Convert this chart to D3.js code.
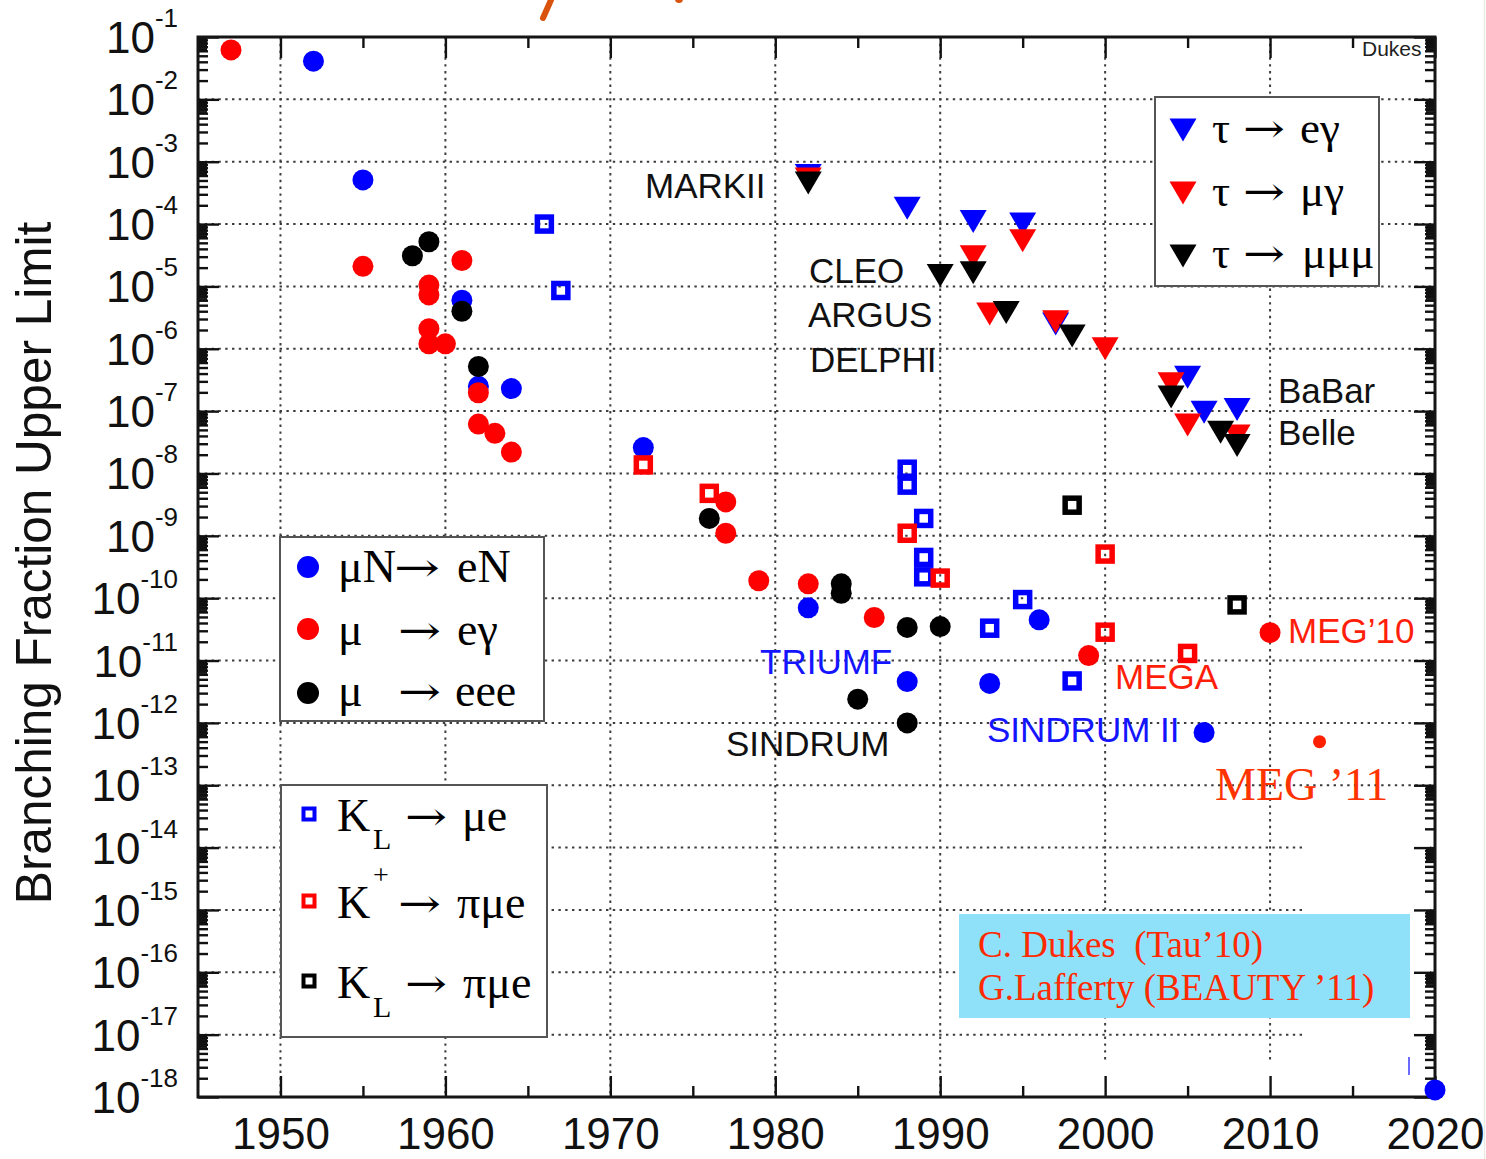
<!DOCTYPE html>
<html><head><meta charset="utf-8">
<script src="https://cdn.jsdelivr.net/npm/d3@7"></script>
<style>
html,body{margin:0;padding:0;background:#fff;}
svg{display:block;}
</style></head>
<body>
<svg id="chart" width="1486" height="1159"></svg>
<script>
// Upper limits on charged-lepton-flavour-violating branching fractions vs. year

// muon processes (filled circles)
const muToEConversion = [[1952,4.1e-2],[1955,5.1e-4],[1961,6.0e-6],[1962,2.5e-7],[1964,2.3e-7],[1972,2.6e-8],[1982,7.0e-11],[1988,4.6e-12],[1993,4.3e-12],[1996,4.5e-11],[2006,7.0e-13],[2020,1.3e-18]];
const muToEGamma = [[1947,6.2e-2],[1955,2.1e-5],[1959,1.05e-5],[1959,7.3e-6],[1959,2.1e-6],[1959,1.2e-6],[1960,1.2e-6],[1961,2.6e-5],[1962,1.97e-7],[1962,6.2e-8],[1963,4.4e-8],[1964,2.2e-8],[1977,3.5e-9],[1977,1.1e-9],[1979,1.9e-10],[1982,1.7e-10],[1986,4.9e-11],[1999,1.2e-11],[2010,2.8e-11]];
const muToEEE = [[1958,3.1e-5],[1959,5.2e-5],[1961,4.0e-6],[1962,5.2e-7],[1976,1.9e-9],[1984,1.7e-10],[1984,1.2e-10],[1985,2.4e-12],[1988,3.4e-11],[1988,1.0e-12],[1990,3.5e-11]];
const megUpdate = [[2013,5.0e-13]];

// kaon processes (open squares)
const kLToMuE = [[1966,1.0e-4],[1967,8.6e-6],[1988,1.17e-8],[1988,6.5e-9],[1989,1.9e-9],[1989,4.5e-10],[1989,2.2e-10],[1993,3.3e-11],[1995,9.5e-11],[1998,4.7e-12]];
const kPlusToPiMuE = [[1972,1.37e-8],[1976,4.8e-9],[1988,1.1e-9],[1990,2.1e-10],[2000,5.1e-10],[2000,2.85e-11],[2005,1.3e-11]];
const kLToPiMuE = [[1998,3.1e-9],[2008,7.8e-11]];

// tau processes (downward triangles)
const tauToEGamma = [[1982,6.0e-4],[1988,1.8e-4],[1992,1.1e-4],[1995,1.0e-4],[1997,2.5e-6],[2005,3.5e-7],[2006,9.6e-8],[2008,1.06e-7]];
const tauToMuGamma = [[1982,5.3e-4],[1992,3.0e-5],[1993,3.6e-6],[1995,5.4e-5],[1997,2.7e-6],[2000,1.0e-6],[2004,2.75e-7],[2005,6.0e-8],[2008,4.0e-8]];
const tauToMuMuMu = [[1982,4.55e-4],[1990,1.5e-5],[1992,1.66e-5],[1994,3.8e-6],[1998,1.6e-6],[2004,1.68e-7],[2007,4.6e-8],[2008,2.8e-8]];

// axis ticks
const xMajorYears = [1950,1960,1970,1980,1990,2000,2010,2020];
const xMinorYears = [1955,1965,1975,1985,1995,2005,2015];
const xGridYears = [1950,1960,1970,1980,1990,2000,2010];
const yExponents = d3.range(-18, 0);          // 10^-18 ... 10^-1
const yGridExponents = d3.range(-17, -1);     // 10^-17 ... 10^-2

const BLUE = "#0000ff", RED = "#ff0000", BLACK = "#000000";
const SANS = "'Liberation Sans', Arial, sans-serif";
const SERIF = "'Liberation Serif', 'Times New Roman', serif";

const frame = {left:198, right:1435, top:37, bottom:1097};
const x = d3.scaleLinear().domain([1945, 2020]).range([frame.left, frame.right]);
const y = d3.scaleLog().domain([1e-18, 1e-1]).range([frame.bottom, frame.top]);

const svg = d3.select("#chart");
svg.append("rect").attr("width",1486).attr("height",1159).attr("fill","#fff");

// slide border and a stroke of hand annotation above the frame
svg.append("line").attr("x1",1484.5).attr("x2",1484.5).attr("y1",0).attr("y2",1159)
  .attr("stroke","#ebebe6").attr("stroke-width",1.5);
svg.append("line").attr("x1",551).attr("y1",0).attr("x2",543).attr("y2",18)
  .attr("stroke","#d9530e").attr("stroke-width",6).attr("stroke-linecap","round");
svg.append("circle").attr("cx",679).attr("cy",-1).attr("r",4).attr("fill","#d9530e");

// dotted grid
const grid = svg.append("g").attr("stroke","#3c3c3c").attr("stroke-width",2)
  .attr("stroke-dasharray","2.4,4.4");
grid.append("g").selectAll("line").data(xGridYears).join("line")
  .attr("x1",d=>x(d)).attr("x2",d=>x(d)).attr("y1",frame.top).attr("y2",frame.bottom);
grid.append("g").selectAll("line").data(yGridExponents).join("line")
  .attr("x1",frame.left).attr("x2",frame.right)
  .attr("y1",d=>y(Math.pow(10,d))).attr("y2",d=>y(Math.pow(10,d)));

// blanked corner of the pasted panel
svg.append("rect").attr("x",1306).attr("y",836).attr("width",124).attr("height",258).attr("fill","#fff");
svg.append("rect").attr("x",960).attr("y",1061).attr("width",346).attr("height",33).attr("fill","#fff");
svg.append("line").attr("x1",1409).attr("x2",1409).attr("y1",1057).attr("y2",1075)
  .attr("stroke","#3a3aff").attr("stroke-width",1.5);

// axes (ticks drawn inside the frame)
function styleAxis(g){
  g.select(".domain").remove();
  g.attr("color","#111").selectAll(".tick line").attr("stroke-width",2.4);
}
const axes = svg.append("g");
const bottomMajor = axes.append("g").attr("transform",`translate(0,${frame.bottom})`)
  .call(d3.axisBottom(x).tickValues(xMajorYears).tickSize(-21).tickFormat(d3.format("d")));
styleAxis(bottomMajor);
bottomMajor.attr("font-family",SANS).attr("font-size",44);
bottomMajor.selectAll("text").attr("y",52).attr("dy",null).attr("fill","#111");
styleAxis(axes.append("g").attr("transform",`translate(0,${frame.bottom})`)
  .call(d3.axisBottom(x).tickValues(xMinorYears).tickSize(-11).tickFormat("")));
styleAxis(axes.append("g").attr("transform",`translate(0,${frame.top})`)
  .call(d3.axisTop(x).tickValues(xMajorYears).tickSize(-21).tickFormat("")));
styleAxis(axes.append("g").attr("transform",`translate(0,${frame.top})`)
  .call(d3.axisTop(x).tickValues(xMinorYears).tickSize(-11).tickFormat("")));

const decadeValues = yExponents.map(e => Math.pow(10, e));
const minorValues = [];
const fineValues = [];
yExponents.slice(0, -1).forEach(e => {
  for (let m = 2; m <= 9; m++) minorValues.push(m * Math.pow(10, e));
  for (let m = 6.2; m < 9.95; m += 0.2) if (Math.abs(m - Math.round(m)) > 0.05) fineValues.push(m * Math.pow(10, e));
});
[[d3.axisLeft, frame.left],[d3.axisRight, frame.right]].forEach(([make, px]) => {
  styleAxis(axes.append("g").attr("transform",`translate(${px},0)`)
    .call(make(y).tickValues(decadeValues).tickSize(-21).tickFormat("")));
  styleAxis(axes.append("g").attr("transform",`translate(${px},0)`)
    .call(make(y).tickValues(minorValues).tickSize(-10).tickFormat("")));
  const f = axes.append("g").attr("transform",`translate(${px},0)`)
    .call(make(y).tickValues(fineValues).tickSize(-9).tickFormat(""));
  styleAxis(f);
  f.selectAll(".tick line").attr("stroke-width",1.3);
});

// y tick labels 10^n
svg.append("g").attr("font-family",SANS).attr("fill","#111")
  .selectAll("text").data(yExponents).join("text")
  .attr("x",178).attr("y",d=>y(Math.pow(10,d))+16).attr("text-anchor","end").attr("font-size",44)
  .each(function(d){
    const t = d3.select(this);
    t.append("tspan").text("10");
    t.append("tspan").attr("font-size",26).attr("dy",-26).text(String(d));
  });

// axis title
svg.append("text").attr("transform","translate(51,563) rotate(-90)")
  .attr("text-anchor","middle").attr("font-family",SANS).attr("font-size",49.5).attr("fill","#111")
  .text("Branching Fraction Upper Limit");

// frame
svg.append("rect").attr("x",frame.left).attr("y",frame.top)
  .attr("width",frame.right-frame.left).attr("height",frame.bottom-frame.top)
  .attr("fill","none").attr("stroke","#151515").attr("stroke-width",3);

// summary box
svg.append("rect").attr("x",959).attr("y",914).attr("width",451).attr("height",104).attr("fill","#8fe1fa");
const cite = svg.append("g").attr("font-family",SERIF).attr("font-size",37).attr("fill","#ff2a00");
cite.append("text").attr("x",978).attr("y",957).text("C. Dukes\u00a0 (Tau\u201910)");
cite.append("text").attr("x",978).attr("y",1000).text("G.Lafferty (BEAUTY \u201911)");

// markers
const marks = svg.append("g");
function circles(data, color, r){
  marks.append("g").selectAll("circle").data(data).join("circle")
    .attr("cx",d=>x(d[0])).attr("cy",d=>y(d[1])).attr("r",r).attr("fill",color);
}
function squares(data, color){
  const s = 14;
  marks.append("g").selectAll("rect").data(data).join("rect")
    .attr("x",d=>x(d[0])-s/2).attr("y",d=>y(d[1])-s/2).attr("width",s).attr("height",s)
    .attr("fill","none").attr("stroke",color).attr("stroke-width",5.5);
}
function triPath(cx, cy){
  return `M${cx-13.5},${cy-11.5}L${cx+13.5},${cy-11.5}L${cx},${cy+11.5}Z`;
}
function triangles(data, color){
  marks.append("g").selectAll("path").data(data).join("path")
    .attr("d",d=>triPath(x(d[0]), y(d[1]))).attr("fill",color);
}
circles(muToEConversion, BLUE, 10.5);
circles(muToEGamma, RED, 10.5);
circles(muToEEE, BLACK, 10.5);
circles(megUpdate, "#ff2000", 6.5);
squares(kLToMuE, BLUE);
squares(kPlusToPiMuE, RED);
squares(kLToPiMuE, BLACK);
triangles(tauToEGamma, BLUE);
triangles(tauToMuGamma, RED);
triangles(tauToMuMuMu, BLACK);

// experiment labels
const LBLUE = "#1414ff", LRED = "#ff1e0a";
const experimentLabels = [
  ["MARKII",645,198,"#111"],["CLEO",809,283,"#111"],["ARGUS",808,327,"#111"],["DELPHI",810,372,"#111"],
  ["BaBar",1278,403,"#111"],["Belle",1278,445,"#111"],["TRIUMF",760,674,LBLUE],["SINDRUM",726,756,"#111"],
  ["SINDRUM II",987,742,LBLUE],["MEGA",1115,689,LRED],["MEG\u201910",1288,643,LRED]
];
svg.append("g").attr("font-family",SANS).attr("font-size",35)
  .selectAll("text").data(experimentLabels).join("text")
  .attr("x",d=>d[1]).attr("y",d=>d[2]).attr("fill",d=>d[3]).text(d=>d[0]);
svg.append("text").attr("x",1215).attr("y",800).attr("font-family",SERIF).attr("font-size",46)
  .attr("fill","#ff3300").text("MEG \u201911");
svg.append("text").attr("x",1362).attr("y",56).attr("font-family",SANS).attr("font-size",21)
  .attr("fill","#222").text("Dukes");

// legends
function legendBox(x0, y0, w, h){
  svg.append("rect").attr("x",x0).attr("y",y0).attr("width",w).attr("height",h)
    .attr("fill","#fff").attr("stroke","#555").attr("stroke-width",2);
}
// an arrow glyph stretched horizontally to the given width
function legendArrow(g, px, py, fs, len){
  const el = g.append("text").attr("x",0).attr("y",0)
    .attr("font-family","'DejaVu Serif', serif").attr("font-size",fs).text("\u2192");
  const w = el.node().getComputedTextLength() || fs * 0.84;
  el.attr("transform",`translate(${px},${py - fs*0.02}) scale(${len / w},1)`);
}
function legendText(parts){
  const g = svg.append("g").attr("font-family",SERIF).attr("fill","#000");
  parts.forEach(([t, px, py, fs, len]) => {
    if (t === "arrow") legendArrow(g, px, py, fs || 46, len);
    else g.append("text").attr("x",px).attr("y",py).attr("font-size",fs||46).text(t);
  });
}

legendBox(280,537,264,184);
[[BLUE,567],[RED,629],[BLACK,693]].forEach(([c,cy]) =>
  svg.append("circle").attr("cx",308).attr("cy",cy).attr("r",11).attr("fill",c));
legendText([
  ["\u03bcN",338,582],["arrow",394,582,40,46],["eN",457,582],
  ["\u03bc",338,645],["arrow",398,645,40,43],["e\u03b3",457,645],
  ["\u03bc",338,706],["arrow",398,706,40,43],["eee",455,706]
]);

legendBox(281,785,266,252);
[[BLUE,814],[RED,901],[BLACK,981]].forEach(([c,cy]) =>
  svg.append("rect").attr("x",309-5.5).attr("y",cy-5.5).attr("width",11).attr("height",11)
    .attr("fill","none").attr("stroke",c).attr("stroke-width",4));
legendText([
  ["K",337,831],["L",373,849,30],["arrow",405,831,40,42],["\u03bce",462,831],
  ["K",337,918],["+",373,884,28],["arrow",398,918,40,43],["\u03c0\u03bce",457,918],
  ["K",337,998],["L",373,1017,30],["arrow",405,998,40,42],["\u03c0\u03bce",463,998]
]);

legendBox(1155,97,224,189);
[[BLUE,130],[RED,193],[BLACK,256]].forEach(([c,cy]) =>
  svg.append("path").attr("d",triPath(1183,cy)).attr("fill",c));
legendText([
  ["\u03c4",1212,143,45],["arrow",1243,143,40,42],["e\u03b3",1300,143,45],
  ["\u03c4",1212,206,45],["arrow",1243,206,40,42],["\u03bc\u03b3",1300,206,45],
  ["\u03c4",1212,268,45],["arrow",1243,268,40,42],["\u03bc\u03bc\u03bc",1302,268,45]
]);
</script>
</body></html>
